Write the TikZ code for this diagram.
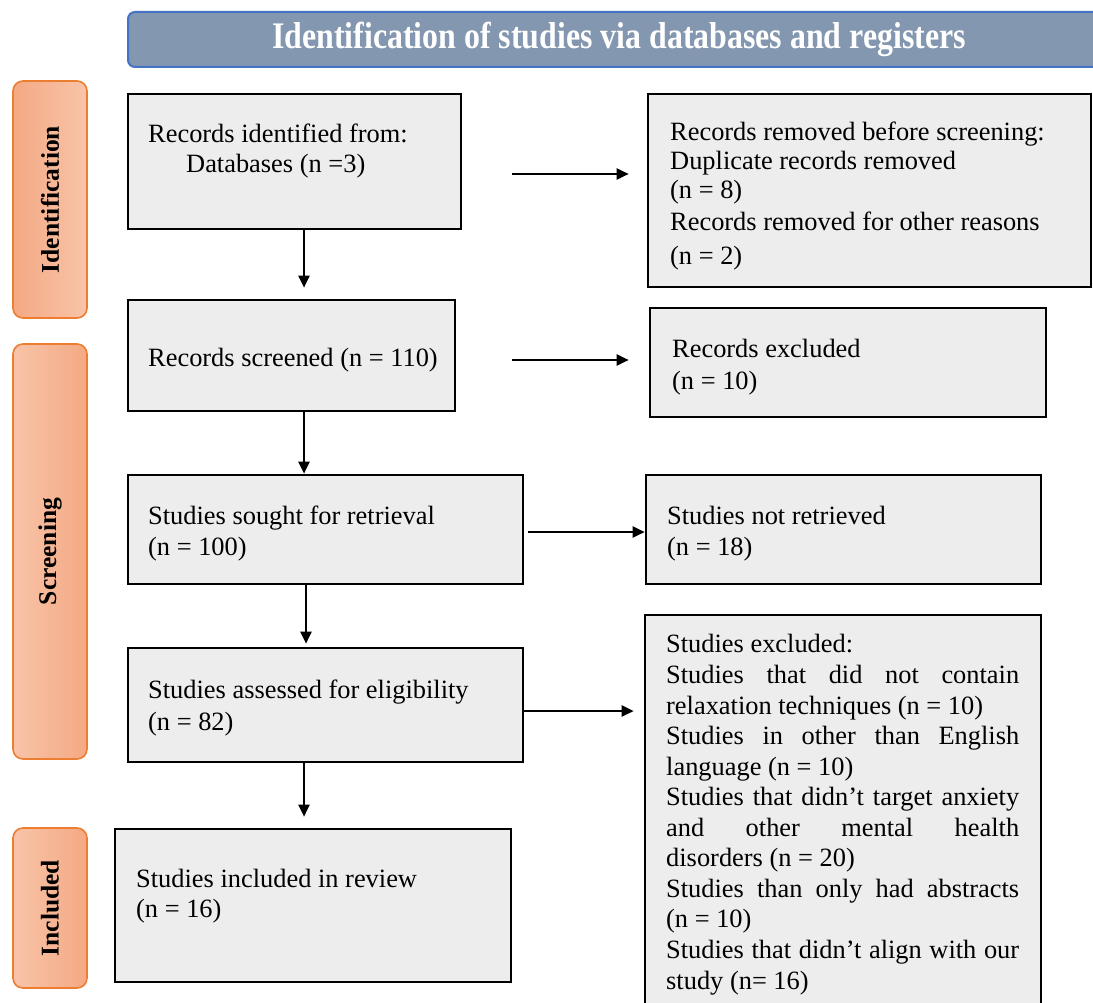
\documentclass[tikz,border=0pt]{standalone}
\usepackage{fontspec}
\setmainfont{Liberation Serif}
\usetikzlibrary{arrows.meta}

\definecolor{boxgray}{HTML}{EDEDED}
\definecolor{headfill}{HTML}{8497B0}
\definecolor{headline}{HTML}{4472C4}
\definecolor{sidedark}{HTML}{F4A984}
\definecolor{sidelight}{HTML}{F8C4A8}
\definecolor{sideline}{HTML}{ED7D31}

\newcommand{\fullline}[1]{\makebox[353pt][s]{#1}}

\begin{document}
\begin{tikzpicture}[x=1pt,y=-1pt,
  box/.style={draw=black, line width=2.6pt, fill=boxgray, inner sep=0pt},
  txt/.style={anchor=base west, inner sep=0pt, align=left,
    font=\fontsize{26.4}{30}\selectfont},
  head/.style={draw=headline, line width=2pt, fill=headfill, rounded corners=7pt,
    text=white, font=\fontsize{37.5}{40}\selectfont\bfseries},
  side/.style={draw=sideline, line width=1.6pt, rounded corners=10pt,
    minimum width=74pt, inner sep=0pt},
  sidetxt/.style={rotate=90, inner sep=0pt, font=\fontsize{25.5}{28}\selectfont\bfseries},
  arr/.style={line width=2.5pt, -{Triangle[length=12pt,width=11pt]}}]
  \path[use as bounding box, clip] (0,0) rectangle (1093,1003);

  % header and stage labels
  \node[head, minimum width=982pt, minimum height=55pt] (hd) at (619,39.5)
    {\scalebox{0.85}[1]{Identification of studies via databases and registers}};
  \node[side, minimum height=237pt, left color=sidedark, right color=sidelight] (s1) at (50,199.5) {};
  \node[side, minimum height=415pt, left color=sidelight, right color=sidedark] (s2) at (50,551.5) {};
  \node[side, minimum height=160pt, left color=sidelight, right color=sidedark] (s3) at (50,908) {};
  \node[sidetxt] (l1) at (s1) {Identification};
  \node[sidetxt] (l2) at (s2) {Screening};
  \node[sidetxt] (l3) at (s3) {Included};

  % main column (text nodes sit on the baseline of their last line)
  \node[box, minimum width=333pt, minimum height=135pt] (b1) at (294.5,161.5) {};
  \node[box, minimum width=327pt, minimum height=111pt] (b2) at (291.5,355.5) {};
  \node[box, minimum width=395pt, minimum height=109pt] (b3) at (325.5,529.5) {};
  \node[box, minimum width=395pt, minimum height=114pt] (b4) at (325.5,705) {};
  \node[box, minimum width=396pt, minimum height=153pt] (b5) at (313,905.5) {};
  \node[txt] (t1) at (148,173) {Records identified from:\\\hspace{38pt}Databases (n =3)};
  \node[txt] (t2) at (148,366) {Records screened (n = 110)};
  \node[txt, font=\fontsize{26.4}{31}\selectfont] (t3) at (148,555) {Studies sought for retrieval\\(n = 100)};
  \node[txt, font=\fontsize{26.4}{32}\selectfont] (t4) at (148,730) {Studies assessed for eligibility\\(n = 82)};
  \node[txt] (t5) at (136,917) {Studies included in review\\(n = 16)};

  % right column
  \node[box, minimum width=443pt, minimum height=193pt] (r1) at (869.5,190.5) {};
  \node[box, minimum width=396pt, minimum height=109pt] (r2) at (848,362.5) {};
  \node[box, minimum width=395pt, minimum height=109pt] (r3) at (843.5,529.5) {};
  \node[box, minimum width=396pt, minimum height=400pt] (r4) at (843,815) {};
  \node[txt, font=\fontsize{26.4}{29}\selectfont] (u1) at (670,265)
    {Records removed before screening:\\Duplicate records removed\\(n = 8)\\[3pt]
     Records removed for other reasons\\[5pt](n = 2)};
  \node[txt, font=\fontsize{26.4}{32}\selectfont] (u2) at (672,389) {Records excluded\\(n = 10)};
  \node[txt, font=\fontsize{26.4}{31}\selectfont] (u3) at (667,555) {Studies not retrieved\\(n = 18)};
  \node[txt, font=\fontsize{26.4}{30.55}\selectfont] (u4) at (666,989)
    {Studies excluded:\\
     \fullline{Studies that did not contain}\\
     relaxation techniques (n = 10)\\
     \fullline{Studies in other than English}\\
     language (n = 10)\\
     \fullline{Studies that didn’t target anxiety}\\
     \fullline{and other mental health}\\
     disorders (n = 20)\\
     \fullline{Studies than only had abstracts}\\
     (n = 10)\\
     \fullline{Studies that didn’t align with our}\\
     study (n= 16)};

  % connectors
  \draw[arr, shorten >=11pt] ([xshift=9.5pt]b1.south) -- ([xshift=9.5pt]b1.south |- b2.north);
  \draw[arr] ([xshift=12.5pt]b2.south) -- ([xshift=12.5pt]b2.south |- b3.north);
  \draw[arr, shorten >=3pt] ([xshift=-19.5pt]b3.south) -- ([xshift=-19.5pt]b3.south |- b4.north);
  \draw[arr, shorten >=11pt] ([xshift=-21.5pt]b4.south) -- ([xshift=-21.5pt]b4.south |- b5.north);
  \draw[arr, shorten <=50pt, shorten >=18pt] ([yshift=-12.5pt]b1.east) -- ([yshift=-12.5pt]b1.east -| r1.west);
  \draw[arr, shorten <=56pt, shorten >=20pt] ([yshift=-4.5pt]b2.east) -- ([yshift=-4.5pt]b2.east -| r2.west);
  \draw[arr, shorten <=4pt] ([yshift=-2.5pt]b3.east) -- ([yshift=-2.5pt]b3.east -| r3.west);
  \draw[arr, shorten >=10pt] ([yshift=-6pt]b4.east) -- ([yshift=-6pt]b4.east -| r4.west);
\end{tikzpicture}
\end{document}
